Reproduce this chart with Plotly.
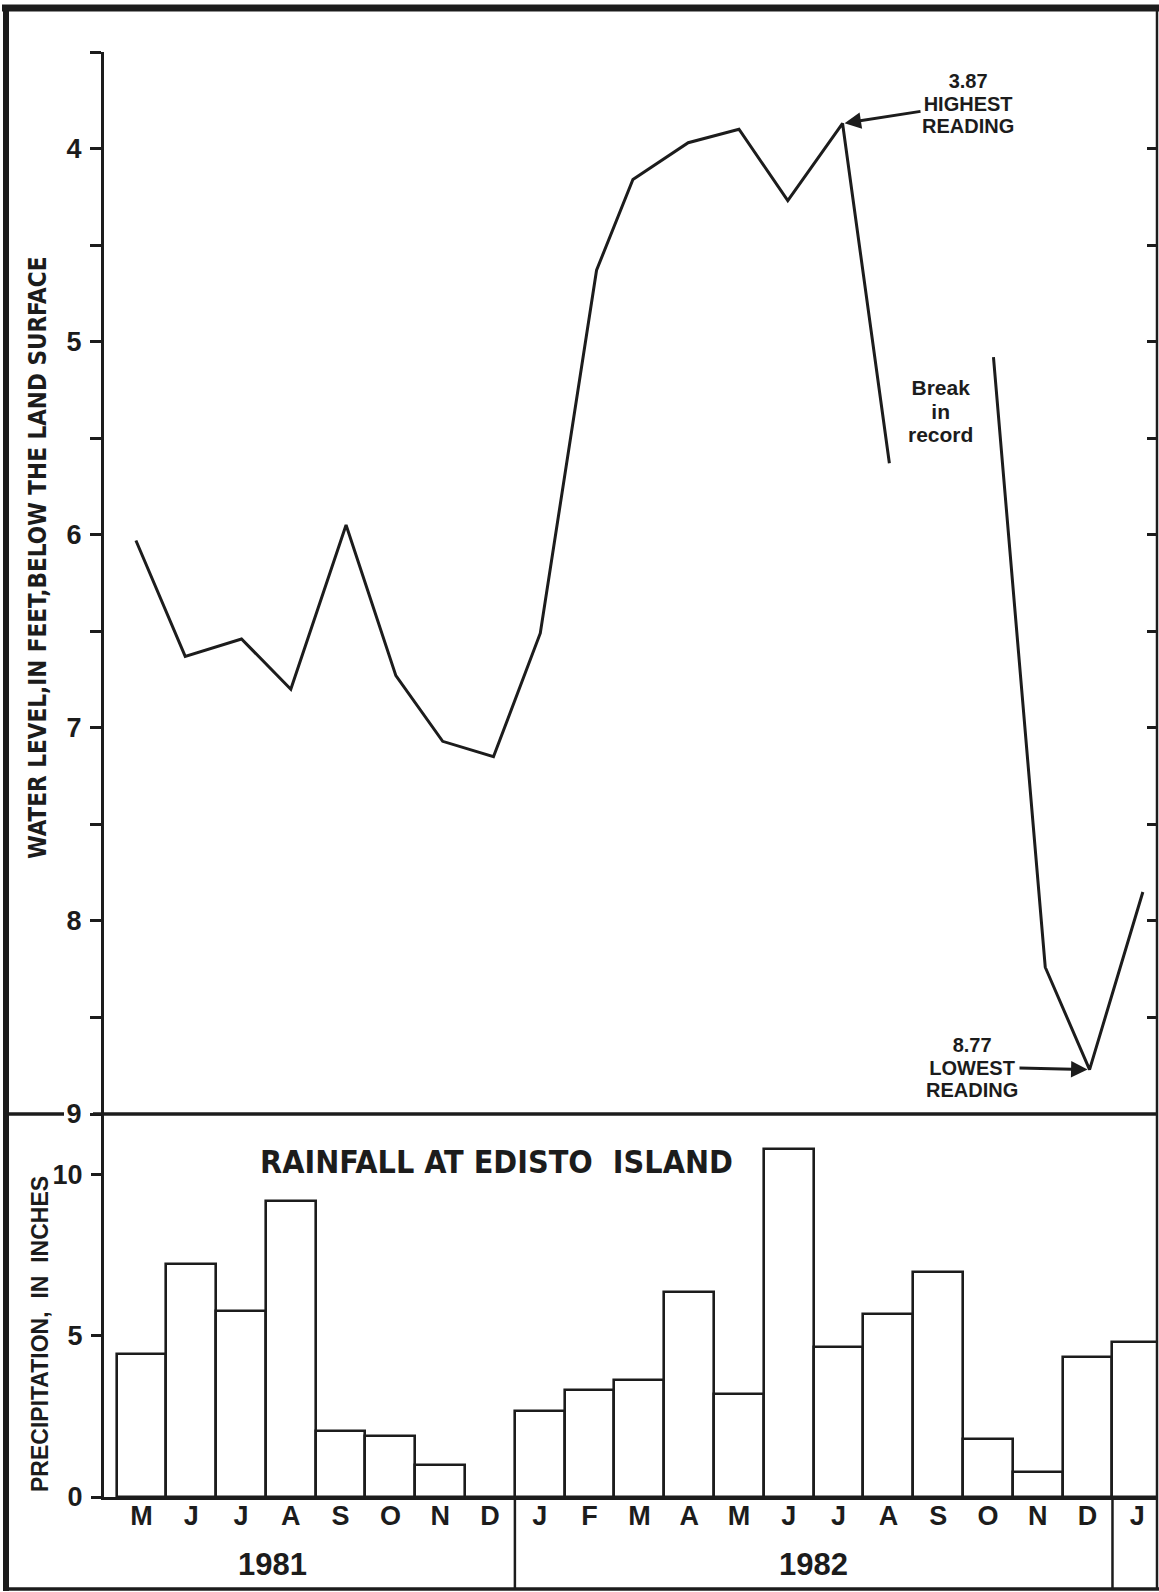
import plotly.graph_objects as go

# ---------------- data ----------------
month_letters = ["M", "J", "J", "A", "S", "O", "N", "D",
                 "J", "F", "M", "A", "M", "J", "J", "A", "S", "O", "N", "D",
                 "J"]
rain_in = [4.45, 7.24, 5.78, 9.19, 2.05, 1.89, 1.00, 0.00,
           2.67, 3.31, 3.62, 6.36, 3.19, 10.82, 4.65, 5.68, 6.98, 1.79, 0.78, 4.35,
           4.80]
years = ["1981", "1982"]
year_label_pos = [3.14, 14.0]       # month position of the year labels
year_breaks = [8, 20]               # month boundaries between years

# months counted from 1 May 1981 (None = break in record)
wl_month = [0.39, 1.38, 2.51, 3.50, 4.61, 5.61, 6.55, 7.57, 8.51, 9.64, 10.37,
            11.48, 12.50, 13.48, 14.58, 15.52, None, 17.61, 18.65, 19.54, 20.61]
wl_depth = [6.03, 6.63, 6.54, 6.80, 5.95, 6.73, 7.07, 7.15, 6.51, 4.63, 4.16,
            3.97, 3.90, 4.27, 3.87, 5.63, None, 5.08, 8.24, 8.77, 7.85]

wl_ticks = [3.5, 4, 4.5, 5, 5.5, 6, 6.5, 7, 7.5, 8, 8.5, 9]
wl_ticktext = ["", "4", "", "5", "", "6", "", "7", "", "8", "", "9"]
rain_ticks = [0, 5, 10]

# ---------------- geometry ----------------
W, H = 1159, 1592
L, R, T, B = 104, 1157, 52, 1497          # plot-area pixel box
SPLIT = 1114                               # pixel row between panels
XR = [-0.251, 20.894]
WL_RANGE = [9, 3.5]

def px(xp):
    return (xp - L) / (R - L)

def py(yp):
    return (B - yp) / (B - T)

def x_to_px(m):
    return L + (m - XR[0]) / (XR[1] - XR[0]) * (R - L)

def wl_to_px(v):
    return T + (v - WL_RANGE[1]) / (WL_RANGE[0] - WL_RANGE[1]) * (SPLIT - T)

INK = "#1c1c1c"
BOLD = "Liberation Sans"
NARROW = "Liberation Sans Narrow, DejaVu Sans Condensed, Liberation Sans"

month_pos = [i + 0.5 for i in range(len(month_letters))]

fig = go.Figure()

fig.add_trace(go.Bar(
    x=month_pos, y=rain_in, width=1, yaxis="y2",
    marker=dict(color="white", line=dict(color=INK, width=2.6)),
    hoverinfo="skip", showlegend=False))

fig.add_trace(go.Scatter(
    x=wl_month, y=wl_depth, mode="lines", yaxis="y",
    line=dict(color=INK, width=3), connectgaps=False,
    hoverinfo="skip", showlegend=False))

# invisible copy to carry the inward-ticked right axis
fig.add_trace(go.Scatter(
    x=wl_month, y=wl_depth, mode="lines", yaxis="y3",
    line=dict(color="rgba(0,0,0,0)", width=0),
    hoverinfo="skip", showlegend=False))

split_dom = py(SPLIT)
tickfont = dict(family=BOLD, size=27, color=INK, weight=700)

fig.update_layout(
    width=W, height=H,
    margin=dict(l=L, r=W - R, t=T, b=H - B, pad=0),
    paper_bgcolor="white", plot_bgcolor="white",
    showlegend=False,
    bargap=0,
    xaxis=dict(range=XR, domain=[0, 1], anchor="y2",
               showline=True, linecolor=INK, linewidth=3,
               showgrid=False, zeroline=False,
               tickvals=month_pos, ticktext=month_letters, ticks="",
               tickfont=tickfont, ticklabelstandoff=-7),
    yaxis=dict(range=WL_RANGE, domain=[split_dom, 1], anchor="x",
               showline=True, linecolor=INK, linewidth=3,
               showgrid=False, zeroline=False,
               tickvals=wl_ticks, ticktext=wl_ticktext,
               ticks="outside", ticklen=11, tickwidth=2.5, tickcolor=INK,
               tickfont=tickfont, ticklabelstandoff=3),
    yaxis3=dict(range=WL_RANGE, overlaying="y", side="right", anchor="x",
                showline=False, showgrid=False, zeroline=False,
                tickvals=wl_ticks, ticks="inside", ticklen=10, tickwidth=2.5,
                tickcolor=INK, showticklabels=False),
    yaxis2=dict(range=[0, 11.894], domain=[0, split_dom], anchor="x",
                showline=True, linecolor=INK, linewidth=3,
                showgrid=False, zeroline=False,
                tickvals=rain_ticks, ticks="outside", ticklen=10, tickwidth=2.5,
                tickcolor=INK, tickfont=tickfont, ticklabelstandoff=3),
)

shapes = []
# outer frame
shapes.append(dict(type="line", xref="paper", yref="paper",
                   x0=px(2), x1=px(1159), y0=py(8), y1=py(8),
                   line=dict(color=INK, width=7)))
shapes.append(dict(type="line", xref="paper", yref="paper",
                   x0=px(6), x1=px(6), y0=py(5), y1=py(1591),
                   line=dict(color=INK, width=6)))
shapes.append(dict(type="line", xref="paper", yref="paper",
                   x0=px(3), x1=px(1159), y0=py(1589), y1=py(1589),
                   line=dict(color=INK, width=3.5)))
shapes.append(dict(type="line", xref="paper", yref="paper",
                   x0=px(1157), x1=px(1157), y0=py(8), y1=py(1590),
                   line=dict(color=INK, width=2.5)))
# panel separator (broken around the "9" label)
shapes.append(dict(type="line", xref="paper", yref="paper",
                   x0=px(8), x1=px(64), y0=split_dom, y1=split_dom,
                   line=dict(color=INK, width=3.5)))
shapes.append(dict(type="line", xref="paper", yref="paper",
                   x0=px(93), x1=px(1157), y0=split_dom, y1=split_dom,
                   line=dict(color=INK, width=3.5)))
# year separators
for xb in year_breaks:
    shapes.append(dict(type="line", xref="x", yref="paper",
                       x0=xb, x1=xb, y0=0, y1=py(1590),
                       line=dict(color=INK, width=2.5)))
fig.update_layout(shapes=shapes)

ann = []

def txt(text, xp, yp, size, family=BOLD, **kw):
    d = dict(text=text, xref="paper", yref="paper", x=px(xp), y=py(yp),
             xanchor="center", yanchor="middle", showarrow=False,
             font=dict(family=family, size=size, color=INK, weight=700))
    d.update(kw)
    ann.append(d)

def stack(lines, size):
    return "<br>".join("<span style='font-size:%dpx'>%s</span>" % (size, s)
                       for s in lines)

# axis titles
txt("WATER LEVEL,IN FEET,BELOW THE LAND SURFACE", 38, 558, 24,
    family=NARROW, textangle=-90)
txt("PRECIPITATION,  IN  INCHES", 40, 1334, 23, textangle=-90)
# rainfall title
txt("RAINFALL AT EDISTO  ISLAND", 496, 1162, 32, family=NARROW)
# year labels
for yl, xpos in zip(years, year_label_pos):
    ann.append(dict(text=yl, xref="x", yref="paper", x=xpos, y=py(1564),
                    xanchor="center", yanchor="middle", showarrow=False,
                    font=dict(family=BOLD, size=31, color=INK, weight=700)))

LINE_FONT = 17.4   # sets the line pitch of the stacked labels
LABEL_SIZE = 20

# highest reading
hi_i = wl_depth.index(min(d for d in wl_depth if d is not None))
ann.append(dict(text=stack(["3.87", "HIGHEST", "READING"], LABEL_SIZE),
                xref="x", yref="y", x=wl_month[hi_i], y=wl_depth[hi_i],
                ax=968 - x_to_px(wl_month[hi_i]),
                ay=104 - wl_to_px(wl_depth[hi_i]),
                axref="pixel", ayref="pixel", showarrow=True,
                arrowhead=2, arrowsize=1.1, arrowwidth=3, arrowcolor=INK,
                standoff=2, align="center",
                font=dict(family=BOLD, size=LINE_FONT, color=INK, weight=700)))
# lowest reading
lo_i = wl_depth.index(max(d for d in wl_depth if d is not None))
ann.append(dict(text=stack(["8.77", "LOWEST", "READING"], LABEL_SIZE),
                xref="x", yref="y", x=wl_month[lo_i], y=wl_depth[lo_i],
                ax=972 - x_to_px(wl_month[lo_i]),
                ay=1067 - wl_to_px(wl_depth[lo_i]),
                axref="pixel", ayref="pixel", showarrow=True,
                arrowhead=2, arrowsize=1.1, arrowwidth=3, arrowcolor=INK,
                standoff=2, align="center",
                font=dict(family=BOLD, size=LINE_FONT, color=INK, weight=700)))
# break in record
txt(stack(["Break", "in", "record"], 21), 940, 411, 18.2, align="center")

fig.update_layout(annotations=ann)

fig.write_html("out.html")
